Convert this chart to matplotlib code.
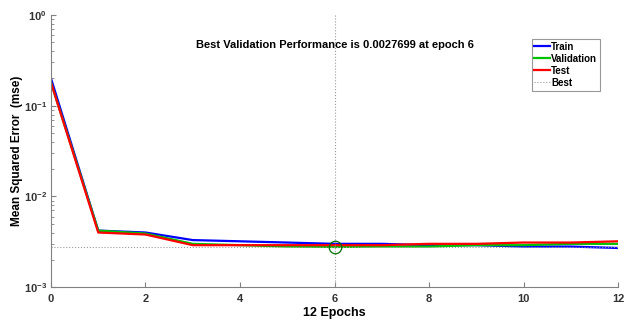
import matplotlib.pyplot as plt
import numpy as np

plt.rcParams.update(
    {
        "font.family": ["Liberation Sans", "DejaVu Sans"],
        "font.weight": "bold",
        "font.size": 8,
        "xtick.direction": "in",
        "ytick.direction": "in",
    }
)

epochs = np.arange(0, 13)
train = [0.20, 0.0042, 0.0040, 0.0033, 0.0032, 0.0031, 0.0030, 0.0030, 0.0029, 0.0029, 0.0028, 0.0028, 0.0027]
validation = [0.18, 0.0042, 0.0039, 0.0030, 0.0029, 0.0028, 0.0027699, 0.0028, 0.0028, 0.0029, 0.0029, 0.0030, 0.0030]
test = [0.18, 0.0040, 0.0038, 0.0029, 0.0029, 0.0029, 0.0029, 0.0029, 0.0030, 0.0030, 0.0031, 0.0031, 0.0032]
best_epoch = 6
best_perf = 0.0027699

fig = plt.figure(figsize=(6.35, 3.27), dpi=100)
ax = fig.add_axes([0.0803, 0.122, 0.893, 0.832])

ax.semilogy(epochs, train, color="#0000ff", lw=1.6, label="Train")
ax.semilogy(epochs, validation, color="#00c000", lw=1.6, label="Validation")
ax.semilogy(epochs, test, color="#ff0000", lw=1.6, label="Test")
ax.axhline(best_perf, color="#999999", ls=":", lw=0.8, label="Best")
ax.axvline(best_epoch, color="#999999", ls=":", lw=0.8)
ax.plot(best_epoch, best_perf, "o", ms=9, mfc="none", mec="#007000", mew=0.9)

ax.set_xlim(0, 12)
ax.set_ylim(1e-3, 1)
ax.set_xticks(np.arange(0, 13, 2))
for s in ["top", "right"]:
    ax.spines[s].set_visible(False)
for s in ["left", "bottom"]:
    ax.spines[s].set_color("#808080")
ax.tick_params(colors="#808080", labelcolor="#333333", labelsize=8)
ax.tick_params(axis="x", pad=5)
ax.tick_params(axis="y", pad=3)
ax.tick_params(which="minor", colors="#808080")

ax.set_xlabel("12 Epochs", fontsize=9, fontweight="bold", labelpad=2)
ax.set_ylabel("Mean Squared Error  (mse)", fontsize=8.5, fontweight="bold")
ax.yaxis.set_label_coords(-0.05, 0.5)
ax.text(0.5, 0.89, "Best Validation Performance is 0.0027699 at epoch 6",
        transform=ax.transAxes, ha="center", va="center", fontsize=8, fontweight="bold")

leg = ax.legend(loc="upper right", bbox_to_anchor=(0.968, 0.912), fontsize=7,
                handlelength=1.6, handletextpad=0.1, borderpad=0.3, labelspacing=0.2,
                borderaxespad=0, fancybox=False, framealpha=1, edgecolor="#999999")
leg.get_frame().set_linewidth(0.8)

fig.savefig("out.png", dpi=100)
